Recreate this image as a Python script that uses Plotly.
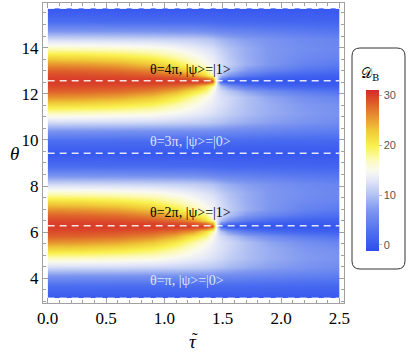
import math
import plotly.graph_objects as go

W, H = 409, 356

# tau grid (columns) and offset of theta from the band centre (rows)
tau = [0, 0.3, 0.6, 0.9, 1.1, 1.25, 1.35, 1.41, 1.45, 1.48, 1.55, 1.7, 1.9, 2.2, 2.5]
d_off = [-math.pi, -2.6, -2.2, -1.8, -1.4, -1.0, -0.7, -0.45, -0.25, -0.1, 0,
         0.1, 0.25, 0.45, 0.7, 1.0, 1.4, 1.8, 2.2, 2.6, math.pi]

# D_B values, one band (theta = centre + d_off)
band = [
    [0, 0, 0, 0, 0, 0, 0, 0, 0, 0, 0, 0, 0, 0, 0],
    [2.3, 2.3, 2.2, 2.2, 2.1, 2.1, 2.1, 2.0, 2.0, 2.0, 2.0, 1.9, 1.8, 1.7, 1.6],
    [6.5, 6.4, 6.3, 6.2, 6.1, 6.0, 5.9, 5.8, 5.7, 5.6, 5.5, 5.2, 4.8, 4.3, 4.0],
    [12.0, 11.9, 11.8, 11.6, 11.3, 11.0, 10.7, 10.4, 10.1, 9.9, 9.3, 8.5, 7.6, 6.6, 5.8],
    [16.8, 16.6, 16.2, 15.6, 14.6, 13.6, 12.9, 12.4, 12.0, 11.8, 11.0, 9.8, 8.5, 7.3, 6.5],
    [22.0, 21.7, 21.0, 19.6, 17.6, 15.6, 14.2, 13.4, 12.8, 12.5, 11.6, 10.0, 8.5, 7.0, 6.2],
    [25.7, 25.4, 24.7, 23.0, 20.5, 17.6, 15.4, 14.0, 13.0, 12.5, 11.8, 10.0, 8.0, 6.2, 5.0],
    [28.2, 28.0, 27.5, 26.3, 24.2, 20.8, 18.5, 15.0, 13.0, 12.0, 10.5, 8.0, 6.0, 4.0, 3.0],
    [29.4, 29.3, 29.1, 28.5, 27.6, 25.5, 21.5, 17.5, 13.0, 10.0, 7.0, 4.0, 2.2, 1.2, 0.9],
    [29.9, 29.9, 29.8, 29.7, 29.4, 28.8, 27.5, 24.0, 13.0, 6.0, 2.5, 1.0, 0.5, 0.3, 0.2],
    [30, 30, 30, 30, 30, 30, 30, 29.0, 13.0, 0.5, 0, 0, 0, 0, 0],
    [29.9, 29.9, 29.8, 29.7, 29.4, 28.8, 27.5, 24.0, 13.0, 6.0, 2.5, 1.0, 0.5, 0.3, 0.2],
    [29.4, 29.3, 29.1, 28.5, 27.6, 25.5, 21.5, 17.5, 13.0, 10.0, 7.0, 4.0, 2.2, 1.2, 0.9],
    [28.2, 28.0, 27.5, 26.3, 24.2, 20.8, 18.5, 15.0, 13.0, 12.0, 10.0, 7.0, 5.0, 3.2, 2.4],
    [25.7, 25.4, 24.7, 23.0, 20.5, 17.6, 15.4, 14.0, 13.0, 12.3, 11.0, 8.8, 6.8, 4.8, 3.8],
    [22.0, 21.7, 21.0, 19.6, 17.6, 15.6, 14.2, 13.4, 12.6, 12.0, 10.6, 8.6, 7.0, 5.5, 4.8],
    [16.8, 16.6, 16.2, 15.6, 14.6, 13.6, 12.7, 12.2, 11.6, 11.0, 10.0, 8.5, 7.0, 6.0, 5.3],
    [12.0, 11.9, 11.8, 11.6, 11.3, 11.0, 10.5, 10.1, 9.6, 9.2, 8.5, 7.5, 6.6, 5.6, 5.0],
    [6.5, 6.4, 6.3, 6.2, 6.1, 6.0, 5.7, 5.4, 5.2, 5.0, 4.8, 4.5, 4.1, 3.6, 3.3],
    [2.3, 2.3, 2.2, 2.2, 2.1, 2.1, 2.0, 1.9, 1.8, 1.8, 1.7, 1.7, 1.6, 1.5, 1.4],
    [0, 0, 0, 0, 0, 0, 0, 0, 0, 0, 0, 0, 0, 0, 0],
]

band_centres = [2 * math.pi, 4 * math.pi]
theta_lines = [math.pi, 2 * math.pi, 3 * math.pi, 4 * math.pi, 5 * math.pi]
x_ticks = [0, 0.5, 1, 1.5, 2, 2.5]
x_labels = ["0.0", "0.5", "1.0", "1.5", "2.0", "2.5"]
y_ticks = [4, 6, 8, 10, 12, 14]
cb_ticks = [0, 10, 20, 30]

labels = [
    (13.04, "θ=4π, |ψ>=|1>", "black"),
    (9.92, "θ=3π, |ψ>=|0>", "rgba(235,240,252,0.95)"),
    (6.85, "θ=2π, |ψ>=|1>", "black"),
    (3.92, "θ=π, |ψ>=|0>", "rgba(235,240,252,0.95)"),
]

# stack the two bands (they share the row at 3π)
theta = [band_centres[0] + d for d in d_off] + [band_centres[1] + d for d in d_off[1:]]
z = band + band[1:]

temp_map = [
    [0.00, "rgb(46,78,238)"],
    [0.12, "rgb(78,112,240)"],
    [0.25, "rgb(125,150,240)"],
    [0.35, "rgb(180,195,243)"],
    [0.44, "rgb(228,232,248)"],
    [0.50, "rgb(250,250,240)"],
    [0.57, "rgb(252,250,180)"],
    [0.65, "rgb(250,242,80)"],
    [0.75, "rgb(240,200,55)"],
    [0.86, "rgb(228,130,45)"],
    [1.00, "rgb(214,40,40)"],
]


def px(x):
    return x / W


def py(y):
    return 1 - y / H


fig = go.Figure()
fig.add_trace(go.Contour(
    x=tau, y=theta, z=z,
    colorscale=temp_map, zauto=False, zmin=-1.2, zmax=31.1,
    contours=dict(coloring="heatmap", showlines=False),
    line=dict(width=0),
    colorbar=dict(
        x=px(366), xanchor="left", xpad=0,
        y=py(170.4), yanchor="middle", len=180.7 / H, lenmode="fraction",
        thickness=13, outlinewidth=0,
        tickvals=cb_ticks, ticks="outside", ticklen=3, tickcolor="#bbbbbb",
        tickfont=dict(family="Liberation Sans", size=11, color="#555555"),
    ),
    hoverinfo="skip",
))

for t in theta_lines:
    fig.add_trace(go.Scatter(
        x=[tau[0], tau[-1]], y=[t, t], mode="lines",
        line=dict(color="rgba(255,255,255,0.85)", width=1.5, dash="7px,5px"),
        showlegend=False, hoverinfo="skip",
    ))

axis_common = dict(
    showgrid=False, zeroline=False, showline=True, linecolor="#a0a0a0", linewidth=1,
    mirror="allticks", ticks="inside", ticklen=5, tickcolor="#a0a0a0",
    tickfont=dict(family="Liberation Serif", size=17, color="black"),
    automargin=False,
)
fig.update_layout(
    width=W, height=H, margin=dict(l=0, r=0, t=0, b=0),
    paper_bgcolor="white", plot_bgcolor="white", showlegend=False,
    xaxis=dict(domain=[px(43), px(344)], range=[-0.04, 2.539],
               tickvals=x_ticks, ticktext=x_labels,
               minor=dict(dtick=0.1, tick0=0, ticks="inside", ticklen=3, tickcolor="#a0a0a0"),
               **axis_common),
    yaxis=dict(domain=[py(302.7), py(3)], range=[2.946, 15.93],
               tickvals=y_ticks,
               minor=dict(dtick=0.5, tick0=0, ticks="inside", ticklen=3, tickcolor="#a0a0a0"),
               **axis_common),
)

for y, txt, col in labels:
    fig.add_annotation(x=0.86, y=y, xref="x", yref="y", text=txt, showarrow=False,
                       xanchor="left", yanchor="middle",
                       font=dict(family="Liberation Serif", size=14, color=col))

# axis titles (tilde drawn as its own mark above tau)
fig.add_annotation(x=px(8), y=py(153), xref="paper", yref="paper", text="<i>θ</i>",
                   showarrow=False, font=dict(family="Liberation Serif", size=19, color="black"))
fig.add_annotation(x=px(193), y=py(354), xref="paper", yref="paper", text="<i>τ</i>",
                   showarrow=False, font=dict(family="Liberation Serif", size=19, color="black"))
fig.add_annotation(x=px(195), y=py(350), xref="paper", yref="paper", text="˜",
                   showarrow=False, font=dict(family="Liberation Serif", size=17, color="black"))

# colorbar frame with rounded corners
x0, x1, y0, y1, r = 352, 405, 48, 269, 8
rx, ry = r / W, r / H
L, R, T, B = px(x0), px(x1), py(y0), py(y1)
path = (f"M {L + rx},{T} L {R - rx},{T} Q {R},{T} {R},{T - ry} L {R},{B + ry} "
        f"Q {R},{B} {R - rx},{B} L {L + rx},{B} Q {L},{B} {L},{B + ry} "
        f"L {L},{T - ry} Q {L},{T} {L + rx},{T} Z")
fig.add_shape(type="path", path=path, xref="paper", yref="paper",
              line=dict(color="#333333", width=1))
fig.add_annotation(x=px(381), y=py(63), xref="paper", yref="paper",
                   text="𝒟<sub>B</sub>", showarrow=False,
                   font=dict(family="DejaVu Serif", size=14, color="black"))

# drop the browser's default 8px body margin so the figure sits at the page corner
fig.write_html("out.html", config={"displayModeBar": False},
               post_script="document.body.style.margin='0px';")
